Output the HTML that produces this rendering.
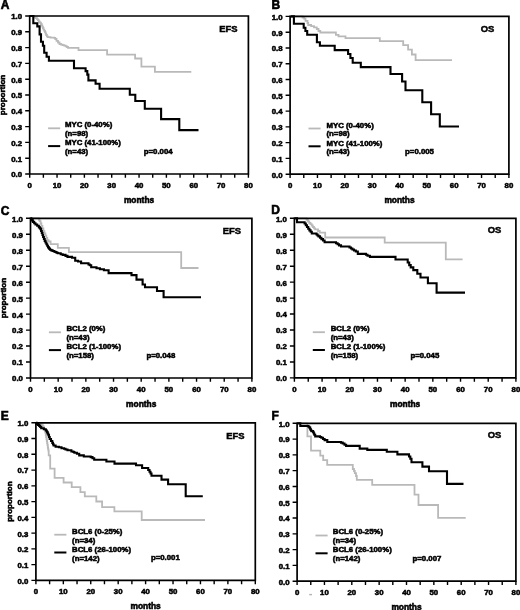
<!DOCTYPE html>
<html><head><meta charset="utf-8"><style>
html,body{margin:0;padding:0;background:#fff;}
body{width:520px;height:610px;overflow:hidden;}
svg{display:block;filter:blur(0.3px);}
text{font-family:"Liberation Sans", sans-serif;font-weight:bold;fill:#000;stroke:#000;stroke-width:0.55px;}
.t{font-size:7.8px;}
.m{font-size:8.4px;}
.g{font-size:9.4px;stroke-width:0.5px;}
.L{font-size:12px;stroke-width:0.6px;}
</style></head><body>
<svg width="520" height="610" viewBox="0 0 520 610">
<rect width="520" height="610" fill="#fff"/>
<path d="M29.7,16.0H34.0V17.4H35.5V18.2H37.0V19.1H37.9V20.2H38.8V21.6H39.8V22.7H40.9V24.0H41.7V25.3H42.3V26.6H42.9V28.0H43.5V29.6H44.3V30.8H45.0V32.2H45.6V33.6H46.2V35.0H46.9V36.3H47.8V37.2H50.5V37.6H54.2V37.9H55.3V39.0H56.5V40.9H58.0V42.5H59.5V44.0H61.0V44.6H62.6V45.2H64.2V45.7H65.7V46.3H67.0V47.0H68.0V47.8H78.5V50.2H107.1V54.6H135.1V58.5H141.4V66.7H154.9V71.8H191.3" fill="none" stroke="#b9b9b9" stroke-width="1.8" stroke-linejoin="miter"/>
<path d="M29.7,16.0H33.3V23.2H37.3V26.4H39.6V34.4H41.0V41.7H42.9V45.8H44.2V52.7H46.6V56.7H48.9V60.7H74.0V68.3H85.6V71.1H87.3V74.6H88.4V80.4H95.6V83.8H99.6V88.7H129.8V94.7H135.3V101.0H144.8V108.8H161.1V119.1H179.3V130.1H198.5" fill="none" stroke="#000" stroke-width="2.1" stroke-linejoin="miter"/>
<path d="M29.70,16.00H248.40V174.00H29.70Z" fill="none" stroke="#000" stroke-width="1.7"/>
<path d="M25.20,174.00H29.70M25.20,158.20H29.70M25.20,142.40H29.70M25.20,126.60H29.70M25.20,110.80H29.70M25.20,95.00H29.70M25.20,79.20H29.70M25.20,63.40H29.70M25.20,47.60H29.70M25.20,31.80H29.70M25.20,16.00H29.70M29.70,174.00V177.80M43.37,174.00V177.80M57.04,174.00V177.80M70.71,174.00V177.80M84.38,174.00V177.80M98.04,174.00V177.80M111.71,174.00V177.80M125.38,174.00V177.80M139.05,174.00V177.80M152.72,174.00V177.80M166.39,174.00V177.80M180.06,174.00V177.80M193.72,174.00V177.80M207.39,174.00V177.80M221.06,174.00V177.80M234.73,174.00V177.80M248.40,174.00V177.80" stroke="#000" stroke-width="1.4" fill="none"/>
<text x="22.10" y="177.40" text-anchor="end" class="t">0.0</text>
<text x="22.10" y="161.60" text-anchor="end" class="t">0.1</text>
<text x="22.10" y="145.80" text-anchor="end" class="t">0.2</text>
<text x="22.10" y="130.00" text-anchor="end" class="t">0.3</text>
<text x="22.10" y="114.20" text-anchor="end" class="t">0.4</text>
<text x="22.10" y="98.40" text-anchor="end" class="t">0.5</text>
<text x="22.10" y="82.60" text-anchor="end" class="t">0.6</text>
<text x="22.10" y="66.80" text-anchor="end" class="t">0.7</text>
<text x="22.10" y="51.00" text-anchor="end" class="t">0.8</text>
<text x="22.10" y="35.20" text-anchor="end" class="t">0.9</text>
<text x="22.10" y="19.40" text-anchor="end" class="t">1.0</text>
<text x="29.70" y="188.00" text-anchor="middle" class="t">0</text>
<text x="57.04" y="188.00" text-anchor="middle" class="t">10</text>
<text x="84.38" y="188.00" text-anchor="middle" class="t">20</text>
<text x="111.71" y="188.00" text-anchor="middle" class="t">30</text>
<text x="139.05" y="188.00" text-anchor="middle" class="t">40</text>
<text x="166.39" y="188.00" text-anchor="middle" class="t">50</text>
<text x="193.72" y="188.00" text-anchor="middle" class="t">60</text>
<text x="221.06" y="188.00" text-anchor="middle" class="t">70</text>
<text x="248.40" y="188.00" text-anchor="middle" class="t">80</text>
<text x="139.05" y="203.00" text-anchor="middle" class="m">months</text>
<text transform="translate(5.40,95.00) rotate(-90)" text-anchor="middle" class="m" style="font-size:8px">proportion</text>
<text x="0.80" y="8.50" class="L">A</text>
<text x="228.40" y="31.90" text-anchor="middle" class="g">EFS</text>
<path d="M48.10,128.30H60.20" stroke="#b9b9b9" stroke-width="1.8"/>
<path d="M48.10,146.10H60.20" stroke="#000" stroke-width="2"/>
<text x="65.00" y="127.00" class="t">MYC (0-40%)</text>
<text x="65.00" y="135.60" class="t">(n=98)</text>
<text x="65.00" y="145.10" class="t">MYC (41-100%)</text>
<text x="65.00" y="153.60" class="t">(n=43)</text>
<text x="143.80" y="154.00" class="t">p=0.004</text>
<path d="M290.6,16.4H302.5V17.5H304.1V18.6H305.5V20.9H307.5V23.0H308.2V25.0H311.1V26.1H314.0V27.3H316.8V29.0H318.5V31.0H320.3V32.5H335.9V34.8H338.5V36.4H345.5V38.2H379.8V41.1H403.2V45.2H408.1V49.6H411.9V54.5H415.6V60.1H452.0" fill="none" stroke="#b9b9b9" stroke-width="1.8" stroke-linejoin="miter"/>
<path d="M290.6,16.4H293.9V23.8H303.7V27.8H305.4V31.0H307.2V34.8H316.9V42.3H319.9V45.8H334.7V50.1H348.1V54.0H350.4V58.0H352.7V62.7H360.8V67.1H390.5V74.0H402.1V81.5H405.5V90.3H422.3V102.2H431.1V114.2H439.8V126.5H459.0" fill="none" stroke="#000" stroke-width="2.1" stroke-linejoin="miter"/>
<path d="M290.10,16.40H508.90V174.20H290.10Z" fill="none" stroke="#000" stroke-width="1.7"/>
<path d="M285.60,174.20H290.10M285.60,158.42H290.10M285.60,142.64H290.10M285.60,126.86H290.10M285.60,111.08H290.10M285.60,95.30H290.10M285.60,79.52H290.10M285.60,63.74H290.10M285.60,47.96H290.10M285.60,32.18H290.10M285.60,16.40H290.10M290.10,174.20V178.00M303.78,174.20V178.00M317.45,174.20V178.00M331.12,174.20V178.00M344.80,174.20V178.00M358.48,174.20V178.00M372.15,174.20V178.00M385.82,174.20V178.00M399.50,174.20V178.00M413.18,174.20V178.00M426.85,174.20V178.00M440.52,174.20V178.00M454.20,174.20V178.00M467.88,174.20V178.00M481.55,174.20V178.00M495.22,174.20V178.00M508.90,174.20V178.00" stroke="#000" stroke-width="1.4" fill="none"/>
<text x="282.50" y="177.60" text-anchor="end" class="t">0.0</text>
<text x="282.50" y="161.82" text-anchor="end" class="t">0.1</text>
<text x="282.50" y="146.04" text-anchor="end" class="t">0.2</text>
<text x="282.50" y="130.26" text-anchor="end" class="t">0.3</text>
<text x="282.50" y="114.48" text-anchor="end" class="t">0.4</text>
<text x="282.50" y="98.70" text-anchor="end" class="t">0.5</text>
<text x="282.50" y="82.92" text-anchor="end" class="t">0.6</text>
<text x="282.50" y="67.14" text-anchor="end" class="t">0.7</text>
<text x="282.50" y="51.36" text-anchor="end" class="t">0.8</text>
<text x="282.50" y="35.58" text-anchor="end" class="t">0.9</text>
<text x="282.50" y="19.80" text-anchor="end" class="t">1.0</text>
<text x="290.10" y="188.20" text-anchor="middle" class="t">0</text>
<text x="317.45" y="188.20" text-anchor="middle" class="t">10</text>
<text x="344.80" y="188.20" text-anchor="middle" class="t">20</text>
<text x="372.15" y="188.20" text-anchor="middle" class="t">30</text>
<text x="399.50" y="188.20" text-anchor="middle" class="t">40</text>
<text x="426.85" y="188.20" text-anchor="middle" class="t">50</text>
<text x="454.20" y="188.20" text-anchor="middle" class="t">60</text>
<text x="481.55" y="188.20" text-anchor="middle" class="t">70</text>
<text x="508.90" y="188.20" text-anchor="middle" class="t">80</text>
<text x="399.50" y="203.20" text-anchor="middle" class="m">months</text>
<text x="271.60" y="8.50" class="L">B</text>
<text x="487.60" y="31.50" text-anchor="middle" class="g">OS</text>
<path d="M308.50,128.50H320.60" stroke="#b9b9b9" stroke-width="1.8"/>
<path d="M308.50,146.30H320.60" stroke="#000" stroke-width="2"/>
<text x="326.50" y="127.70" class="t">MYC (0-40%)</text>
<text x="326.50" y="136.30" class="t">(n=98)</text>
<text x="326.50" y="145.80" class="t">MYC (41-100%)</text>
<text x="326.50" y="154.30" class="t">(n=43)</text>
<text x="405.10" y="154.20" class="t">p=0.005</text>
<path d="M30.5,218.3H38.8V219.5H39.3V220.4H39.8V221.2H40.6V223.5H41.4V225.8H42.4V228.5H43.4V231.1H44.4V233.4H45.4V235.6H46.3V237.9H47.3V240.2H48.6V241.5H50.6V244.2H57.8V247.9H68.9V252.2H181.2V268.0H198.5" fill="none" stroke="#b9b9b9" stroke-width="1.8" stroke-linejoin="miter"/>
<path d="M30.5,218.3H31.0V218.8H32.0V220.4H32.9V221.9H34.2V223.2H35.5V224.5H37.2V225.8H38.8V227.1H39.7V228.1H40.5V229.1H41.1V231.0H41.8V233.0H42.5V235.0H43.1V237.0H43.9V239.0H44.7V240.9H45.5V242.5H46.4V244.2H47.2V245.8H48.0V247.4H49.0V248.6H50.0V249.7H51.3V250.4H52.6V251.0H53.9V251.5H55.2V252.0H56.5V252.7H57.8V253.3H60.7V254.2H62.7V254.9H65.5V255.9H67.5V256.9H72.0V257.8H75.2V260.7H78.0V261.5H81.1V263.3H88.5V264.5H89.8V265.3H91.2V267.3H96.5V268.2H99.9V269.3H103.9V270.2H108.6V273.1H131.5V275.1H136.5V279.6H142.6V284.5H145.0V287.3H157.0V291.0H163.6V297.2H201.0" fill="none" stroke="#000" stroke-width="2.1" stroke-linejoin="miter"/>
<path d="M30.50,218.30H251.90V378.00H30.50Z" fill="none" stroke="#000" stroke-width="1.7"/>
<path d="M26.00,378.00H30.50M26.00,362.03H30.50M26.00,346.06H30.50M26.00,330.09H30.50M26.00,314.12H30.50M26.00,298.15H30.50M26.00,282.18H30.50M26.00,266.21H30.50M26.00,250.24H30.50M26.00,234.27H30.50M26.00,218.30H30.50M30.50,378.00V381.80M44.34,378.00V381.80M58.17,378.00V381.80M72.01,378.00V381.80M85.85,378.00V381.80M99.69,378.00V381.80M113.53,378.00V381.80M127.36,378.00V381.80M141.20,378.00V381.80M155.04,378.00V381.80M168.88,378.00V381.80M182.71,378.00V381.80M196.55,378.00V381.80M210.39,378.00V381.80M224.22,378.00V381.80M238.06,378.00V381.80M251.90,378.00V381.80" stroke="#000" stroke-width="1.4" fill="none"/>
<text x="22.90" y="381.40" text-anchor="end" class="t">0.0</text>
<text x="22.90" y="365.43" text-anchor="end" class="t">0.1</text>
<text x="22.90" y="349.46" text-anchor="end" class="t">0.2</text>
<text x="22.90" y="333.49" text-anchor="end" class="t">0.3</text>
<text x="22.90" y="317.52" text-anchor="end" class="t">0.4</text>
<text x="22.90" y="301.55" text-anchor="end" class="t">0.5</text>
<text x="22.90" y="285.58" text-anchor="end" class="t">0.6</text>
<text x="22.90" y="269.61" text-anchor="end" class="t">0.7</text>
<text x="22.90" y="253.64" text-anchor="end" class="t">0.8</text>
<text x="22.90" y="237.67" text-anchor="end" class="t">0.9</text>
<text x="22.90" y="221.70" text-anchor="end" class="t">1.0</text>
<text x="30.50" y="392.00" text-anchor="middle" class="t">0</text>
<text x="58.17" y="392.00" text-anchor="middle" class="t">10</text>
<text x="85.85" y="392.00" text-anchor="middle" class="t">20</text>
<text x="113.53" y="392.00" text-anchor="middle" class="t">30</text>
<text x="141.20" y="392.00" text-anchor="middle" class="t">40</text>
<text x="168.88" y="392.00" text-anchor="middle" class="t">50</text>
<text x="196.55" y="392.00" text-anchor="middle" class="t">60</text>
<text x="224.22" y="392.00" text-anchor="middle" class="t">70</text>
<text x="251.90" y="392.00" text-anchor="middle" class="t">80</text>
<text x="141.20" y="407.00" text-anchor="middle" class="m">months</text>
<text transform="translate(6.20,298.15) rotate(-90)" text-anchor="middle" class="m" style="font-size:8px">proportion</text>
<text x="0.80" y="214.50" class="L">C</text>
<text x="231.90" y="234.20" text-anchor="middle" class="g">EFS</text>
<path d="M48.90,332.30H61.00" stroke="#b9b9b9" stroke-width="1.8"/>
<path d="M48.90,350.10H61.00" stroke="#000" stroke-width="2"/>
<text x="66.40" y="331.00" class="t">BCL2 (0%)</text>
<text x="66.40" y="339.60" class="t">(n=43)</text>
<text x="66.40" y="349.10" class="t">BCL2 (1-100%)</text>
<text x="66.40" y="357.60" class="t">(n=158)</text>
<text x="146.40" y="358.00" class="t">p=0.048</text>
<path d="M294.4,218.3H306.5V219.5H307.5V220.5H308.1V221.5H309.3V223.0H310.5V224.1H311.7V225.5H312.8V227.0H314.0V228.3H315.1V229.3H318.0V231.0H319.7V232.7H325.2V237.5H384.7V242.7H445.8V259.3H462.6" fill="none" stroke="#b9b9b9" stroke-width="1.8" stroke-linejoin="miter"/>
<path d="M294.4,218.3H297.0V222.3H304.6V223.5H305.8V225.2H307.0V227.0H308.2V228.7H309.4V230.4H310.6V231.8H311.8V233.5H316.5V234.5H317.5V235.5H318.5V236.4H320.0V237.8H321.4V239.1H323.0V240.5H324.6V242.3H336.0V243.3H337.6V244.2H339.0V245.4H341.0V246.5H349.5V247.5H351.0V248.5H352.4V249.5H354.0V250.5H355.8V251.5H357.8V253.9H366.0V254.7H367.5V255.7H369.9V256.9H395.5V259.5H407.7V262.5H409.2V265.1H410.7V267.4H413.3V270.1H417.3V273.8H420.5V277.5H427.9V283.3H436.6V292.6H465.0" fill="none" stroke="#000" stroke-width="2.1" stroke-linejoin="miter"/>
<path d="M294.40,218.30H515.90V377.90H294.40Z" fill="none" stroke="#000" stroke-width="1.7"/>
<path d="M289.90,377.90H294.40M289.90,361.94H294.40M289.90,345.98H294.40M289.90,330.02H294.40M289.90,314.06H294.40M289.90,298.10H294.40M289.90,282.14H294.40M289.90,266.18H294.40M289.90,250.22H294.40M289.90,234.26H294.40M289.90,218.30H294.40M294.40,377.90V381.70M308.24,377.90V381.70M322.09,377.90V381.70M335.93,377.90V381.70M349.77,377.90V381.70M363.62,377.90V381.70M377.46,377.90V381.70M391.31,377.90V381.70M405.15,377.90V381.70M418.99,377.90V381.70M432.84,377.90V381.70M446.68,377.90V381.70M460.52,377.90V381.70M474.37,377.90V381.70M488.21,377.90V381.70M502.06,377.90V381.70M515.90,377.90V381.70" stroke="#000" stroke-width="1.4" fill="none"/>
<text x="286.80" y="381.30" text-anchor="end" class="t">0.0</text>
<text x="286.80" y="365.34" text-anchor="end" class="t">0.1</text>
<text x="286.80" y="349.38" text-anchor="end" class="t">0.2</text>
<text x="286.80" y="333.42" text-anchor="end" class="t">0.3</text>
<text x="286.80" y="317.46" text-anchor="end" class="t">0.4</text>
<text x="286.80" y="301.50" text-anchor="end" class="t">0.5</text>
<text x="286.80" y="285.54" text-anchor="end" class="t">0.6</text>
<text x="286.80" y="269.58" text-anchor="end" class="t">0.7</text>
<text x="286.80" y="253.62" text-anchor="end" class="t">0.8</text>
<text x="286.80" y="237.66" text-anchor="end" class="t">0.9</text>
<text x="286.80" y="221.70" text-anchor="end" class="t">1.0</text>
<text x="294.40" y="391.90" text-anchor="middle" class="t">0</text>
<text x="322.09" y="391.90" text-anchor="middle" class="t">10</text>
<text x="349.77" y="391.90" text-anchor="middle" class="t">20</text>
<text x="377.46" y="391.90" text-anchor="middle" class="t">30</text>
<text x="405.15" y="391.90" text-anchor="middle" class="t">40</text>
<text x="432.84" y="391.90" text-anchor="middle" class="t">50</text>
<text x="460.52" y="391.90" text-anchor="middle" class="t">60</text>
<text x="488.21" y="391.90" text-anchor="middle" class="t">70</text>
<text x="515.90" y="391.90" text-anchor="middle" class="t">80</text>
<text x="405.15" y="406.90" text-anchor="middle" class="m">months</text>
<text x="271.30" y="214.40" class="L">D</text>
<text x="494.60" y="233.40" text-anchor="middle" class="g">OS</text>
<path d="M312.80,332.20H324.90" stroke="#b9b9b9" stroke-width="1.8"/>
<path d="M312.80,350.00H324.90" stroke="#000" stroke-width="2"/>
<text x="330.70" y="330.90" class="t">BCL2 (0%)</text>
<text x="330.70" y="339.50" class="t">(n=43)</text>
<text x="330.70" y="349.00" class="t">BCL2 (1-100%)</text>
<text x="330.70" y="357.50" class="t">(n=158)</text>
<text x="410.40" y="357.90" class="t">p=0.045</text>
<path d="M35.9,422.8H39.5V423.2H40.8V424.2H41.9V425.2H42.9V426.5H43.8V427.9H44.3V429.2H44.8V430.5H45.2V431.8H45.5V433.1H45.8V435.0H46.1V437.0H46.5V439.0H46.8V441.0H47.1V443.0H47.4V444.9H47.8V447.5H48.1V449.2H48.4V450.8H48.7V455.3H50.2V468.6H54.6V477.9H63.6V482.5H71.7V487.1H80.4V492.1H84.8V496.4H96.3V501.5H102.1V507.1H114.4V511.3H141.7V520.0H205.0" fill="none" stroke="#b9b9b9" stroke-width="1.8" stroke-linejoin="miter"/>
<path d="M35.9,422.8H36.6V423.9H38.0V424.9H39.2V425.9H40.2V427.0H41.2V428.2H43.8V429.2H45.8V430.2H46.5V431.3H47.1V432.4H47.8V433.8H48.4V435.1H49.0V437.0H49.7V439.0H51.0V441.0H52.3V442.9H53.0V444.2H53.6V445.5H55.6V446.8H58.9V447.2H61.5V448.2H64.0V448.8H65.5V449.5H67.5V450.3H71.4V451.5H73.4V452.0H74.4V452.7H76.9V453.7H79.2V455.4H83.8V456.5H90.7V457.1H92.5V458.3H94.2V459.8H106.4V461.5H114.5V463.6H136.0V465.3H142.1V468.0H148.2V470.0H149.5V471.8H150.5V473.5H151.5V475.8H161.5V479.6H168.1V484.2H185.7V496.3H202.8" fill="none" stroke="#000" stroke-width="2.1" stroke-linejoin="miter"/>
<path d="M35.90,422.80H255.30V580.40H35.90Z" fill="none" stroke="#000" stroke-width="1.7"/>
<path d="M31.40,580.40H35.90M31.40,564.64H35.90M31.40,548.88H35.90M31.40,533.12H35.90M31.40,517.36H35.90M31.40,501.60H35.90M31.40,485.84H35.90M31.40,470.08H35.90M31.40,454.32H35.90M31.40,438.56H35.90M31.40,422.80H35.90M35.90,580.40V584.20M49.61,580.40V584.20M63.33,580.40V584.20M77.04,580.40V584.20M90.75,580.40V584.20M104.46,580.40V584.20M118.18,580.40V584.20M131.89,580.40V584.20M145.60,580.40V584.20M159.31,580.40V584.20M173.03,580.40V584.20M186.74,580.40V584.20M200.45,580.40V584.20M214.16,580.40V584.20M227.88,580.40V584.20M241.59,580.40V584.20M255.30,580.40V584.20" stroke="#000" stroke-width="1.4" fill="none"/>
<text x="28.30" y="583.80" text-anchor="end" class="t">0.0</text>
<text x="28.30" y="568.04" text-anchor="end" class="t">0.1</text>
<text x="28.30" y="552.28" text-anchor="end" class="t">0.2</text>
<text x="28.30" y="536.52" text-anchor="end" class="t">0.3</text>
<text x="28.30" y="520.76" text-anchor="end" class="t">0.4</text>
<text x="28.30" y="505.00" text-anchor="end" class="t">0.5</text>
<text x="28.30" y="489.24" text-anchor="end" class="t">0.6</text>
<text x="28.30" y="473.48" text-anchor="end" class="t">0.7</text>
<text x="28.30" y="457.72" text-anchor="end" class="t">0.8</text>
<text x="28.30" y="441.96" text-anchor="end" class="t">0.9</text>
<text x="28.30" y="426.20" text-anchor="end" class="t">1.0</text>
<text x="35.90" y="594.40" text-anchor="middle" class="t">0</text>
<text x="63.33" y="594.40" text-anchor="middle" class="t">10</text>
<text x="90.75" y="594.40" text-anchor="middle" class="t">20</text>
<text x="118.18" y="594.40" text-anchor="middle" class="t">30</text>
<text x="145.60" y="594.40" text-anchor="middle" class="t">40</text>
<text x="173.03" y="594.40" text-anchor="middle" class="t">50</text>
<text x="200.45" y="594.40" text-anchor="middle" class="t">60</text>
<text x="227.88" y="594.40" text-anchor="middle" class="t">70</text>
<text x="255.30" y="594.40" text-anchor="middle" class="t">80</text>
<text x="145.60" y="609.40" text-anchor="middle" class="m">months</text>
<text transform="translate(11.60,501.60) rotate(-90)" text-anchor="middle" class="m" style="font-size:8px">proportion</text>
<text x="0.80" y="419.50" class="L">E</text>
<text x="235.30" y="438.70" text-anchor="middle" class="g">EFS</text>
<path d="M54.30,534.70H66.40" stroke="#b9b9b9" stroke-width="1.8"/>
<path d="M54.30,552.50H66.40" stroke="#000" stroke-width="2"/>
<text x="72.10" y="534.20" class="t">BCL6 (0-25%)</text>
<text x="72.10" y="542.80" class="t">(n=34)</text>
<text x="72.10" y="552.30" class="t">BCL6 (26-100%)</text>
<text x="72.10" y="560.80" class="t">(n=142)</text>
<text x="150.90" y="560.40" class="t">p=0.001</text>
<path d="M297.1,423.3H307.4V436.4H311.0V450.7H320.3V455.7H323.2V460.2H327.2V464.9H352.8V469.0H354.0V471.0H354.8V473.1H356.0V476.0H356.8V479.8H372.2V484.9H414.5V494.7H418.5V505.0H438.1V517.8H465.7" fill="none" stroke="#b9b9b9" stroke-width="1.8" stroke-linejoin="miter"/>
<path d="M297.1,423.3H300.3V426.0H308.5V426.8H309.4V427.6H310.2V429.4H311.0V430.5H311.5V431.1H313.1V432.3H313.8V433.5H314.3V434.8H315.2V436.4H320.0V437.0H321.3V437.8H323.0V439.0H324.6V440.1H327.3V442.0H341.0V442.6H342.7V443.5H344.5V444.8H346.1V445.9H359.7V448.6H367.3V449.9H386.8V451.8H397.4V454.4H409.0V456.5H410.3V458.7H411.5V462.2H422.4V466.6H429.0V471.3H447.0V483.9H463.5" fill="none" stroke="#000" stroke-width="2.1" stroke-linejoin="miter"/>
<path d="M297.10,423.30H515.90V581.20H297.10Z" fill="none" stroke="#000" stroke-width="1.7"/>
<path d="M292.60,581.20H297.10M292.60,565.41H297.10M292.60,549.62H297.10M292.60,533.83H297.10M292.60,518.04H297.10M292.60,502.25H297.10M292.60,486.46H297.10M292.60,470.67H297.10M292.60,454.88H297.10M292.60,439.09H297.10M292.60,423.30H297.10M297.10,581.20V585.00M310.78,581.20V585.00M324.45,581.20V585.00M338.12,581.20V585.00M351.80,581.20V585.00M365.48,581.20V585.00M379.15,581.20V585.00M392.82,581.20V585.00M406.50,581.20V585.00M420.18,581.20V585.00M433.85,581.20V585.00M447.52,581.20V585.00M461.20,581.20V585.00M474.88,581.20V585.00M488.55,581.20V585.00M502.22,581.20V585.00M515.90,581.20V585.00" stroke="#000" stroke-width="1.4" fill="none"/>
<text x="289.50" y="584.60" text-anchor="end" class="t">0.0</text>
<text x="289.50" y="568.81" text-anchor="end" class="t">0.1</text>
<text x="289.50" y="553.02" text-anchor="end" class="t">0.2</text>
<text x="289.50" y="537.23" text-anchor="end" class="t">0.3</text>
<text x="289.50" y="521.44" text-anchor="end" class="t">0.4</text>
<text x="289.50" y="505.65" text-anchor="end" class="t">0.5</text>
<text x="289.50" y="489.86" text-anchor="end" class="t">0.6</text>
<text x="289.50" y="474.07" text-anchor="end" class="t">0.7</text>
<text x="289.50" y="458.28" text-anchor="end" class="t">0.8</text>
<text x="289.50" y="442.49" text-anchor="end" class="t">0.9</text>
<text x="289.50" y="426.70" text-anchor="end" class="t">1.0</text>
<text x="297.10" y="595.20" text-anchor="middle" class="t">0</text>
<text x="324.45" y="595.20" text-anchor="middle" class="t">10</text>
<text x="351.80" y="595.20" text-anchor="middle" class="t">20</text>
<text x="379.15" y="595.20" text-anchor="middle" class="t">30</text>
<text x="406.50" y="595.20" text-anchor="middle" class="t">40</text>
<text x="433.85" y="595.20" text-anchor="middle" class="t">50</text>
<text x="461.20" y="595.20" text-anchor="middle" class="t">60</text>
<text x="488.55" y="595.20" text-anchor="middle" class="t">70</text>
<text x="515.90" y="595.20" text-anchor="middle" class="t">80</text>
<text x="406.50" y="610.20" text-anchor="middle" class="m">months</text>
<text x="271.60" y="420.00" class="L">F</text>
<text x="494.60" y="438.40" text-anchor="middle" class="g">OS</text>
<path d="M315.50,535.50H327.60" stroke="#b9b9b9" stroke-width="1.8"/>
<path d="M315.50,553.30H327.60" stroke="#000" stroke-width="2"/>
<text x="332.80" y="534.20" class="t">BCL6 (0-25%)</text>
<text x="332.80" y="542.80" class="t">(n=34)</text>
<text x="332.80" y="552.30" class="t">BCL6 (26-100%)</text>
<text x="332.80" y="560.80" class="t">(n=142)</text>
<text x="412.50" y="561.20" class="t">p=0.007</text>
<rect x="309.2" y="593.9" width="2.8" height="1.4" fill="#b4b4b4"/>
</svg>
</body></html>
